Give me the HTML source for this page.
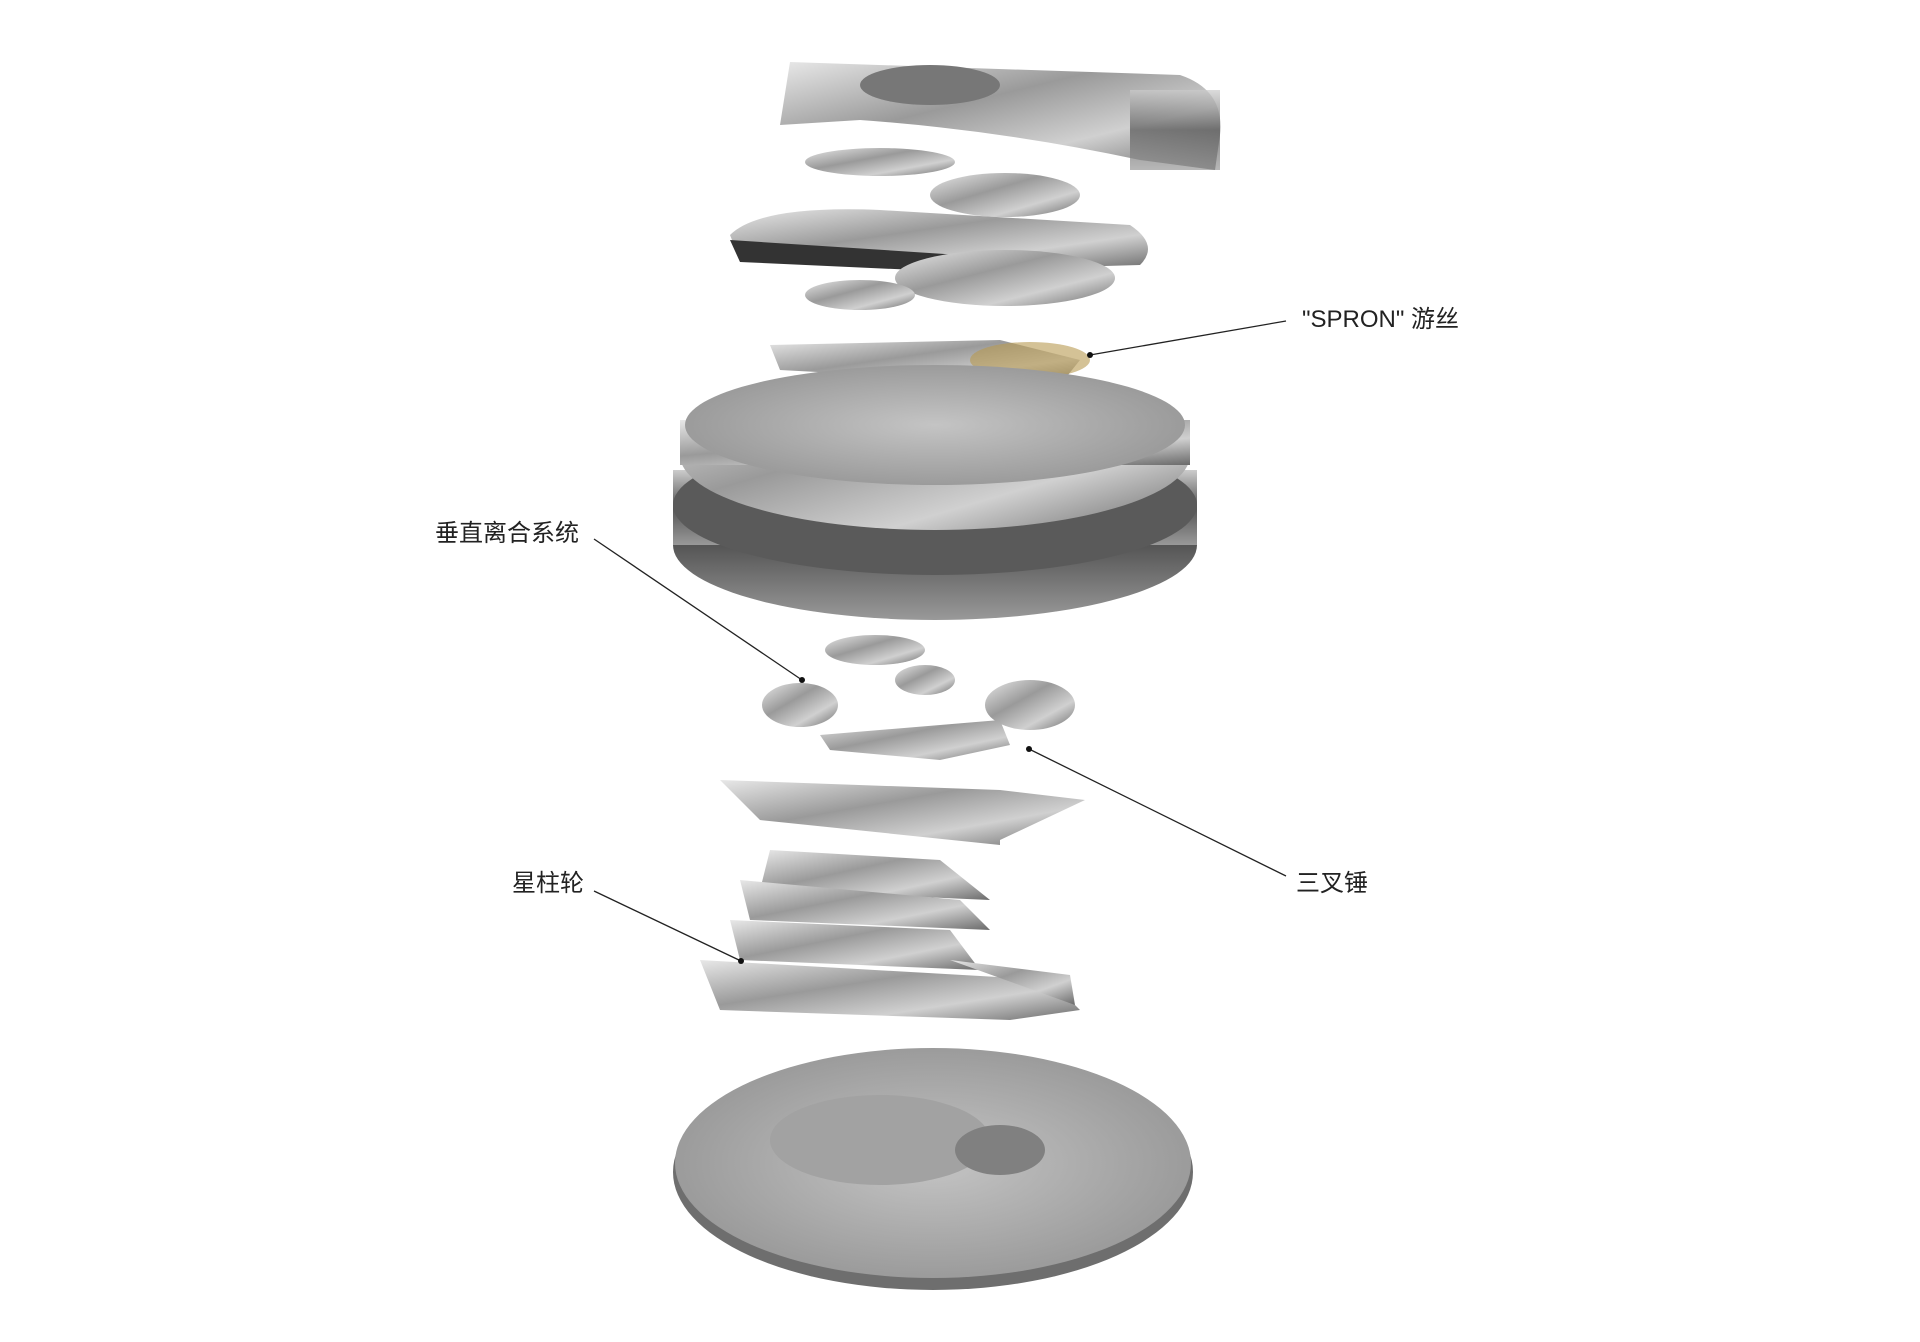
<!DOCTYPE html>
<html><head><meta charset="utf-8"><style>
html,body{margin:0;padding:0;background:#fff;}
svg{display:block}
text{font-family:"Liberation Sans","Noto Sans CJK SC",sans-serif;font-size:24px;fill:#222}
</style></head><body>
<svg width="1920" height="1342" viewBox="0 0 1920 1342" xmlns="http://www.w3.org/2000/svg">
<defs>
<linearGradient id="m" x1="0" y1="0" x2="1" y2="1">
<stop offset="0" stop-color="#e8e8e8"/><stop offset=".4" stop-color="#9a9a9a"/><stop offset=".7" stop-color="#d0d0d0"/><stop offset="1" stop-color="#6a6a6a"/></linearGradient>
<linearGradient id="d" x1="0" y1="0" x2="0" y2="1">
<stop offset="0" stop-color="#ccc"/><stop offset=".5" stop-color="#555"/><stop offset="1" stop-color="#999"/></linearGradient>
<radialGradient id="b" cx=".5" cy=".5" r=".6"><stop offset="0" stop-color="#c4c4c4"/><stop offset="1" stop-color="#939393"/></radialGradient>
</defs>
<path d="M790 62 L1180 75 Q1225 90 1220 135 L1215 170 L1140 160 Q1000 130 860 120 L780 125 Z" fill="url(#m)"/>
<rect x="1130" y="90" width="90" height="80" fill="url(#d)" opacity=".7"/>
<ellipse cx="930" cy="85" rx="70" ry="20" fill="#777"/>
<ellipse cx="880" cy="162" rx="75" ry="14" fill="url(#m)"/>
<ellipse cx="1005" cy="195" rx="75" ry="22" fill="url(#m)"/>
<path d="M730 235 Q760 205 880 210 L1130 225 Q1160 245 1140 265 L960 270 L740 260 Z" fill="url(#m)"/>
<path d="M730 240 L740 262 L960 272 L960 255 Z" fill="#333"/>
<ellipse cx="1005" cy="278" rx="110" ry="28" fill="url(#m)"/>
<ellipse cx="860" cy="295" rx="55" ry="15" fill="url(#m)"/>
<path d="M770 345 L1000 340 L1080 360 L1060 385 L780 370 Z" fill="url(#m)"/>
<ellipse cx="1030" cy="360" rx="60" ry="18" fill="#b89a50" opacity=".6"/>
<ellipse cx="935" cy="545" rx="262" ry="75" fill="url(#d)"/>
<rect x="673" y="470" width="524" height="75" fill="url(#d)"/>
<ellipse cx="935" cy="505" rx="262" ry="70" fill="#5a5a5a"/>
<ellipse cx="935" cy="455" rx="255" ry="75" fill="url(#m)"/>
<rect x="680" y="420" width="510" height="45" fill="url(#m)"/>
<ellipse cx="935" cy="425" rx="250" ry="60" fill="url(#b)"/>
<ellipse cx="875" cy="650" rx="50" ry="15" fill="url(#m)"/>
<ellipse cx="800" cy="705" rx="38" ry="22" fill="url(#m)"/>
<ellipse cx="1030" cy="705" rx="45" ry="25" fill="url(#m)"/>
<ellipse cx="925" cy="680" rx="30" ry="15" fill="url(#m)"/>
<path d="M820 735 L1000 720 L1010 745 L940 760 L830 750 Z" fill="url(#m)"/>
<path d="M720 780 L1000 790 L1085 800 L1000 840 L1000 845 L760 820 Z" fill="url(#m)"/>
<path d="M770 850 L940 860 L990 900 L760 890 Z" fill="url(#m)"/>
<path d="M740 880 L960 900 L990 930 L750 920 Z" fill="url(#m)"/>
<path d="M730 920 L950 930 L980 970 L740 960 Z" fill="url(#m)"/>
<path d="M700 960 L1050 980 L1080 1010 L1010 1020 L720 1010 Z" fill="url(#m)"/>
<path d="M950 960 L1070 975 L1075 1005 Z" fill="url(#m)"/>
<ellipse cx="933" cy="1172" rx="260" ry="118" fill="#6e6e6e"/>
<ellipse cx="933" cy="1163" rx="258" ry="115" fill="url(#b)"/>
<ellipse cx="880" cy="1140" rx="110" ry="45" fill="#a2a2a2"/>
<ellipse cx="1000" cy="1150" rx="45" ry="25" fill="#808080"/>
<g stroke="#222" stroke-width="1.3" fill="none">
<line x1="1286" y1="321" x2="1090" y2="355"/>
<line x1="594" y1="539" x2="802" y2="680"/>
<line x1="594" y1="891" x2="741" y2="961"/>
<line x1="1286" y1="876" x2="1029" y2="749"/>
</g>
<g fill="#111"><circle cx="1090" cy="355" r="3"/><circle cx="802" cy="680" r="3"/><circle cx="741" cy="961" r="3"/><circle cx="1029" cy="749" r="3"/></g>
<text x="1302" y="327">"SPRON" 游丝</text>
<text x="435" y="541">垂直离合系统</text>
<text x="512" y="891">星柱轮</text>
<text x="1296" y="891">三叉锤</text>
</svg>
</body></html>
